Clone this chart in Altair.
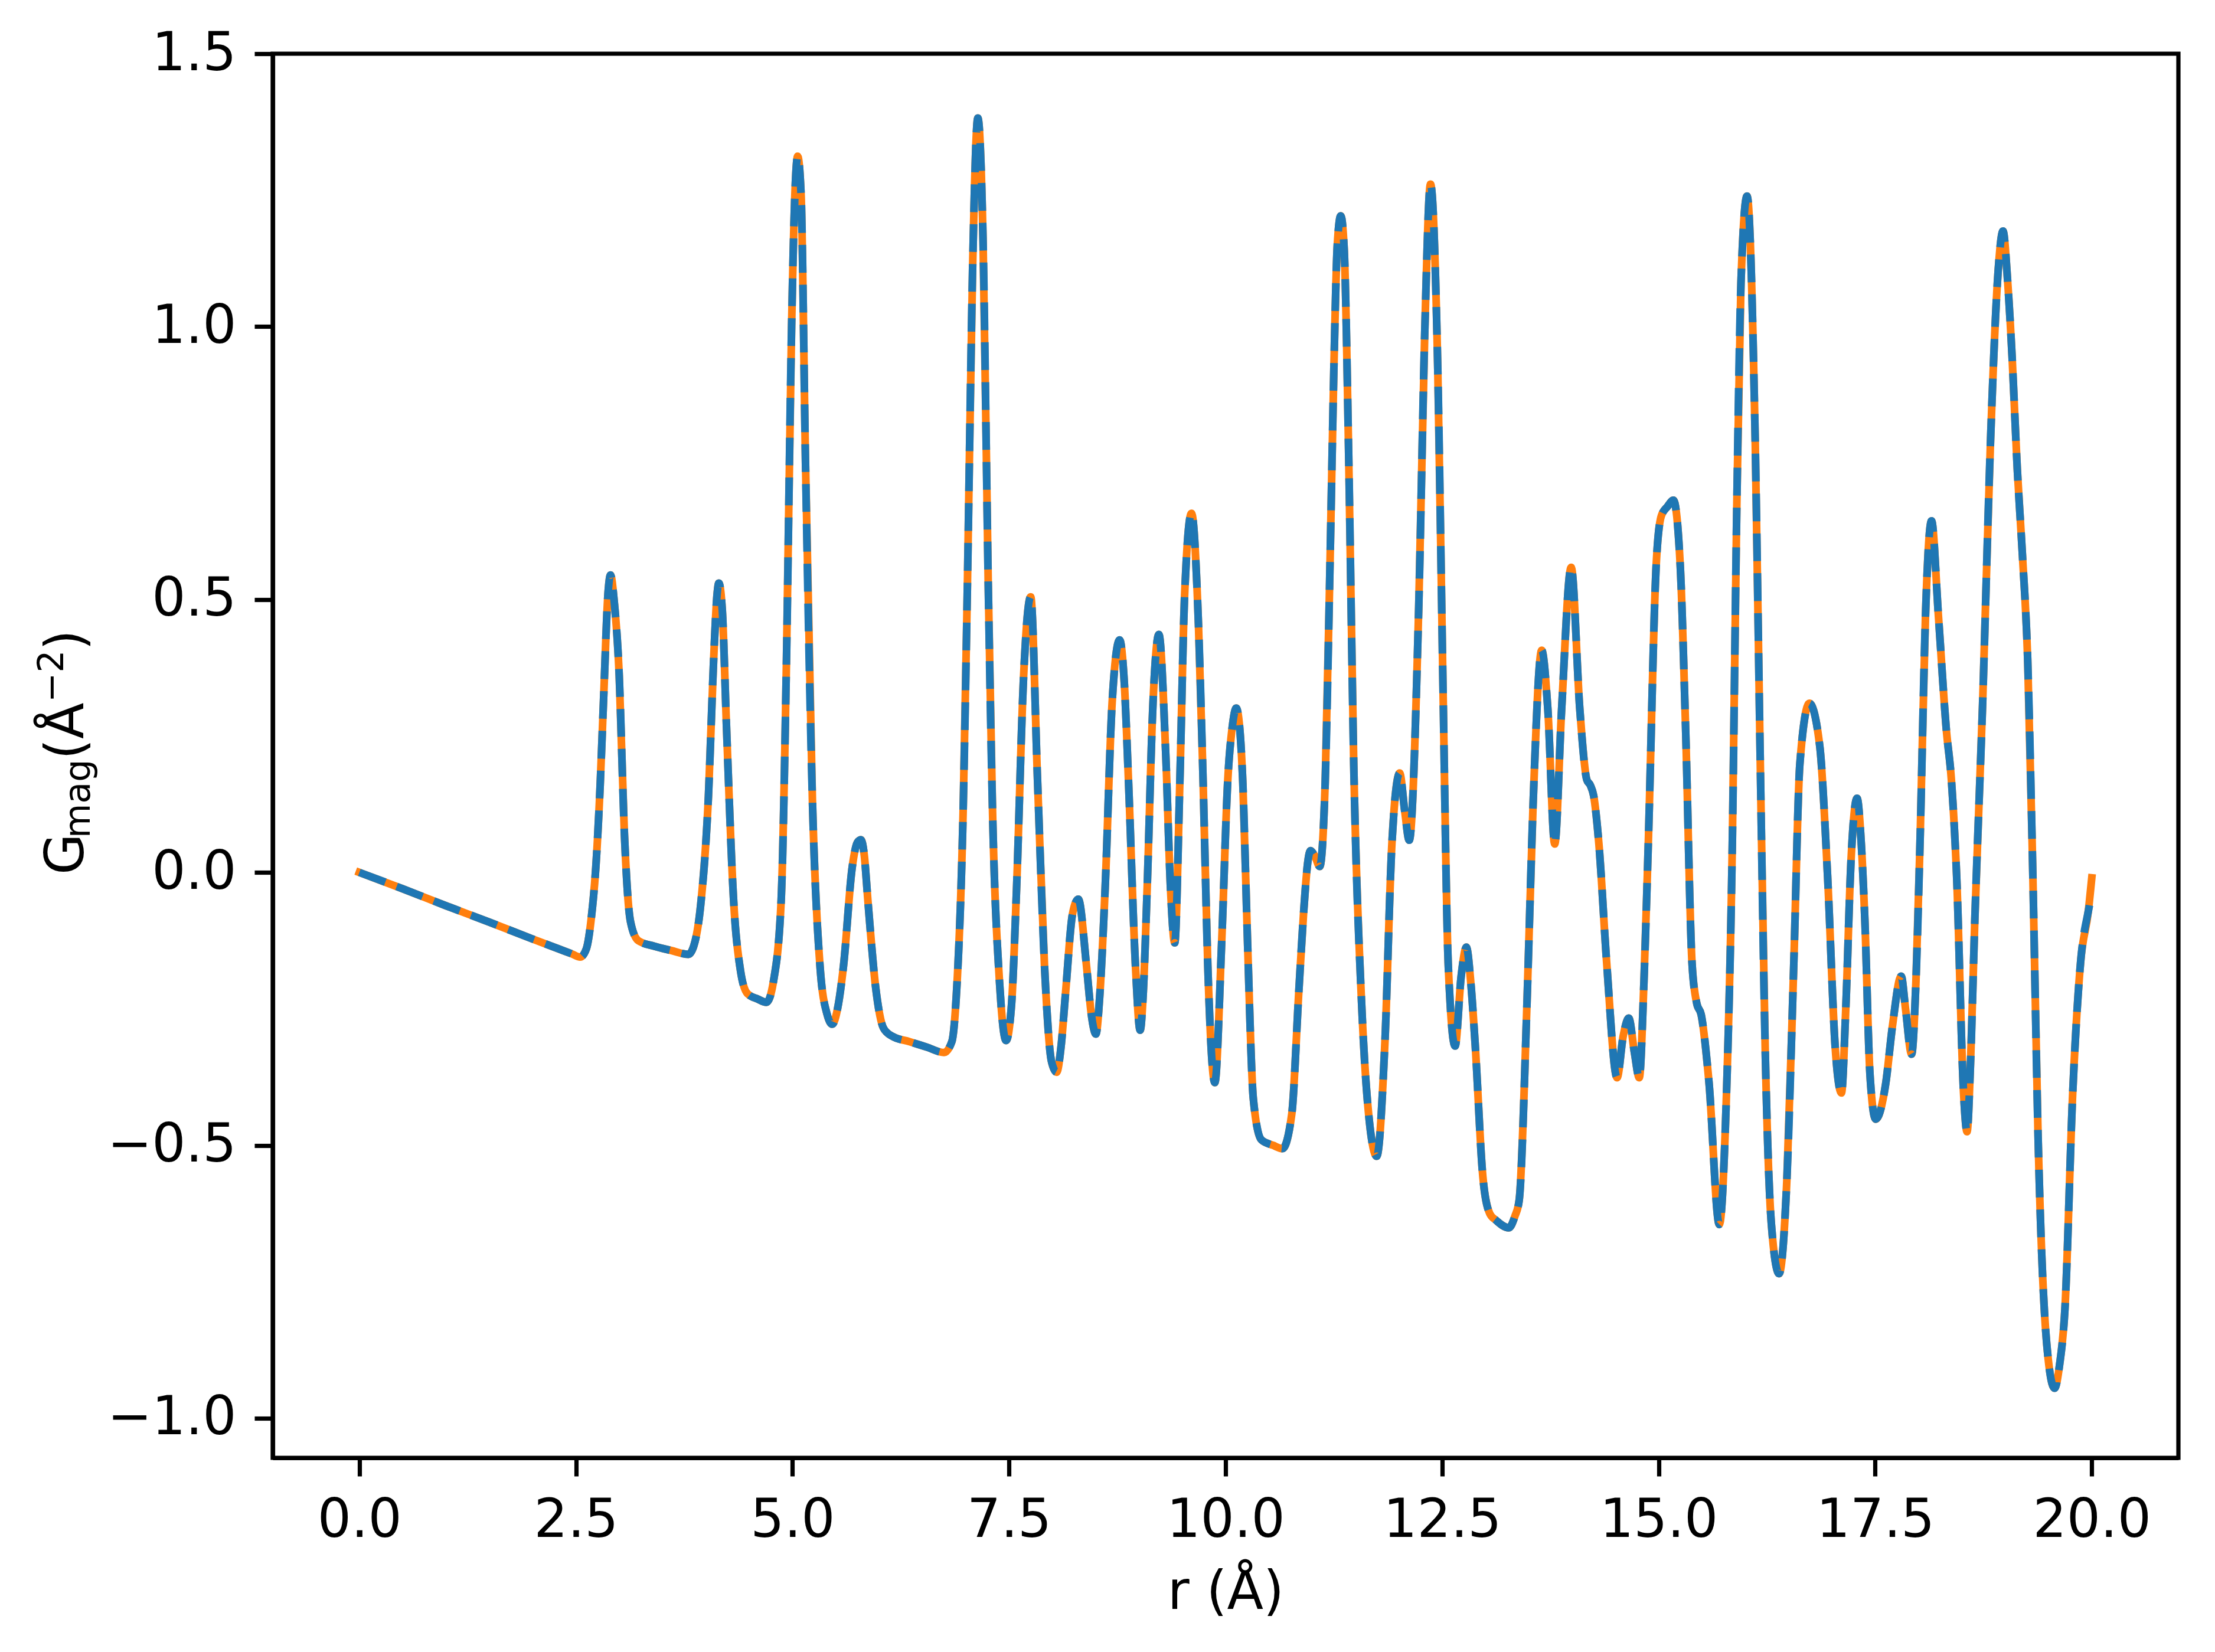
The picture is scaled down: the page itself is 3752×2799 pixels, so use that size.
import altair as alt
import pandas as pd

# (r in Å, G_mag)
points = [
    (0.00, 0.000), (0.50, -0.030), (1.00, -0.061), (1.50, -0.091), (2.00, -0.122), (2.30, -0.140),
    (2.45, -0.149), (2.55, -0.155), (2.62, -0.14), (2.68, -0.08), (2.73, 0.01), (2.78, 0.16),
    (2.82, 0.32), (2.87, 0.51), (2.90, 0.545), (2.94, 0.50), (3.00, 0.36), (3.06, 0.07), (3.13, -0.09),
    (3.22, -0.125), (3.40, -0.135), (3.60, -0.143), (3.80, -0.150), (3.86, -0.135), (3.94, -0.06),
    (4.03, 0.14), (4.09, 0.39), (4.13, 0.51), (4.15, 0.53), (4.19, 0.48), (4.24, 0.26),
    (4.32, -0.05), (4.40, -0.18), (4.48, -0.222), (4.60, -0.232), (4.70, -0.238), (4.78, -0.20),
    (4.87, -0.05), (4.93, 0.38), (4.99, 1.00), (5.03, 1.25), (5.06, 1.312), (5.10, 1.24),
    (5.15, 0.755), (5.23, 0.134), (5.32, -0.176), (5.40, -0.26), (5.46, -0.278), (5.52, -0.25),
    (5.59, -0.17), (5.69, 0.01), (5.75, 0.055), (5.79, 0.06), (5.83, 0.03), (5.87, -0.05),
    (5.96, -0.21), (6.05, -0.285), (6.15, -0.300), (6.35, -0.310), (6.55, -0.320), (6.75, -0.330),
    (6.84, -0.31), (6.89, -0.23), (6.97, 0.11), (7.02, 0.53), (7.08, 1.11), (7.14, 1.382),
    (7.20, 1.16), (7.26, 0.53), (7.31, 0.11), (7.39, -0.20), (7.466, -0.308), (7.53, -0.24),
    (7.587, -0.03), (7.668, 0.358), (7.75, 0.505), (7.83, 0.165), (7.91, -0.172), (7.99, -0.346),
    (8.05, -0.366), (8.10, -0.32), (8.153, -0.22), (8.233, -0.076), (8.30, -0.049), (8.395, -0.172),
    (8.45, -0.26), (8.503, -0.296), (8.55, -0.22), (8.61, -0.028), (8.69, 0.31), (8.777, 0.426),
    (8.83, 0.35), (8.88, 0.165), (8.96, -0.172), (9.014, -0.289), (9.05, -0.22), (9.095, -0.028),
    (9.162, 0.31), (9.23, 0.436), (9.31, 0.214), (9.364, -0.028), (9.413, -0.129), (9.472, 0.165),
    (9.526, 0.503), (9.607, 0.658), (9.687, 0.455), (9.741, 0.165), (9.795, -0.172), (9.876, -0.385),
    (9.956, -0.124), (10.024, 0.165), (10.08, 0.27), (10.123, 0.301), (10.16, 0.27), (10.199, 0.165),
    (10.253, -0.124), (10.32, -0.414), (10.414, -0.49), (10.55, -0.50), (10.657, -0.506), (10.764, -0.443),
    (10.845, -0.22), (10.90, -0.076), (10.95, 0.02), (10.98, 0.04), (11.03, 0.03), (11.087, 0.011),
    (11.15, 0.165), (11.21, 0.60), (11.25, 0.921), (11.29, 1.15), (11.33, 1.203), (11.37, 1.14),
    (11.42, 0.776), (11.48, 0.196), (11.57, -0.238), (11.66, -0.456), (11.745, -0.52), (11.84, -0.31),
    (11.92, 0.052), (12.01, 0.182), (12.07, 0.11), (12.12, 0.059), (12.23, 0.486), (12.30, 0.993),
    (12.366, 1.261), (12.45, 0.921), (12.51, 0.341), (12.57, -0.166), (12.65, -0.318), (12.72, -0.19),
    (12.78, -0.137), (12.83, -0.20), (12.88, -0.311), (12.97, -0.557), (13.05, -0.625), (13.12, -0.637),
    (13.27, -0.651), (13.34, -0.63), (13.39, -0.60), (13.48, -0.238), (13.55, 0.124), (13.65, 0.407),
    (13.72, 0.30), (13.80, 0.052), (13.88, 0.30), (13.99, 0.559), (14.09, 0.298), (14.17, 0.17),
    (14.21, 0.16), (14.25, 0.14), (14.31, 0.052), (14.40, -0.166), (14.52, -0.376), (14.59, -0.30),
    (14.655, -0.267), (14.72, -0.33), (14.776, -0.376), (14.83, -0.20), (14.88, 0.052), (14.97, 0.559),
    (15.03, 0.653), (15.10, 0.67), (15.17, 0.682), (15.25, 0.559), (15.31, 0.269), (15.385, -0.166),
    (15.44, -0.24), (15.49, -0.26), (15.58, -0.383), (15.70, -0.645), (15.78, -0.42), (15.85, 0.05),
    (15.90, 0.65), (15.95, 1.08), (16.02, 1.239), (16.115, 0.786), (16.17, 0.231), (16.23, -0.325),
    (16.30, -0.642), (16.39, -0.735), (16.48, -0.563), (16.56, -0.166), (16.63, 0.199), (16.74, 0.31),
    (16.86, 0.231), (16.95, -0.007), (17.04, -0.325), (17.11, -0.404), (17.16, -0.25), (17.22, 0.02),
    (17.29, 0.136), (17.34, 0.05), (17.38, -0.086), (17.44, -0.372), (17.505, -0.452), (17.62, -0.388),
    (17.70, -0.28), (17.80, -0.19), (17.85, -0.25), (17.92, -0.333), (17.97, -0.20), (18.02, 0.072),
    (18.08, 0.469), (18.15, 0.644), (18.23, 0.469), (18.32, 0.263), (18.38, 0.168), (18.44, -0.007),
    (18.52, -0.404), (18.56, -0.475), (18.60, -0.35), (18.65, -0.086), (18.74, 0.31), (18.83, 0.786),
    (18.92, 1.104), (18.975, 1.175), (19.03, 1.08), (19.08, 0.945), (19.14, 0.739), (19.20, 0.58),
    (19.26, 0.39), (19.32, -0.007), (19.38, -0.483), (19.48, -0.864), (19.57, -0.945), (19.63, -0.90),
    (19.69, -0.80), (19.78, -0.404), (19.87, -0.166), (19.96, -0.071), (20.00, -0.04),
]
r_vals = [p[0] for p in points]
g_data = [p[1] for p in points]
# fitted curve: same as data except its end point
g_fit = g_data[:-1] + [-0.01]

x_ticks = [0.0, 2.5, 5.0, 7.5, 10.0, 12.5, 15.0, 17.5, 20.0]
y_ticks = [-1.0, -0.5, 0.0, 0.5, 1.0, 1.5]

FONT = "DejaVu Sans"
FS = 90
SUB = 60
LW = 13

df_data = pd.DataFrame({"r": r_vals, "G": g_data})
df_fit = pd.DataFrame({"r": r_vals, "G": g_fit})

xscale = alt.Scale(domain=[-1, 21], nice=False, zero=False)
yscale = alt.Scale(domain=[-1.0725, 1.5], nice=False, zero=False)

xaxis = alt.Axis(values=x_ticks, format=".1f", title="r (Å)", grid=False, labelFlush=False)
yaxis = alt.Axis(values=y_ticks, format=".1f", title="", grid=False, labelFlush=False)

fit_line = alt.Chart(df_fit).mark_line(
    color="#ff7f0e", strokeWidth=LW, interpolate="monotone", strokeJoin="round", strokeCap="square"
).encode(
    x=alt.X("r:Q", scale=xscale, axis=xaxis),
    y=alt.Y("G:Q", scale=yscale, axis=yaxis),
)

data_line = alt.Chart(df_data).mark_line(
    color="#1f77b4", strokeWidth=LW, interpolate="monotone", strokeDash=[47, 20.5],
    strokeCap="butt", strokeJoin="round"
).encode(
    x=alt.X("r:Q", scale=xscale, axis=xaxis),
    y=alt.Y("G:Q", scale=yscale, axis=yaxis),
)

# y-axis title built from pieces (subscript / superscript)
title_pieces = [
    ("G", FS, -321, 1391),
    ("mag", SUB, -310, 1329),
    ("(Å", FS, -321, 1196),
    ("−2", SUB, -355, 1099),
    (")", FS, -321, 1011),
]
title_layers = []
for txt, size, px, py in title_pieces:
    title_layers.append(
        alt.Chart(pd.DataFrame({"t": [txt]})).mark_text(
            angle=270, align="left", baseline="alphabetic", font=FONT, fontSize=size, color="black"
        ).encode(text="t:N", x=alt.value(px), y=alt.value(py))
    )

chart = alt.layer(fit_line, data_line, *title_layers).properties(
    width=3228,
    height=2379,
    padding={"left": 454, "top": 83, "right": 54, "bottom": 321},
    autosize=alt.AutoSizeParams(type="none"),
    background="white",
).configure_view(
    stroke="black", strokeWidth=7.2
).configure_axis(
    labelFont=FONT, labelFontSize=FS, labelColor="black", labelLimit=1000,
    titleFont=FONT, titleFontSize=FS, titleFontWeight="normal", titleColor="black",
    tickSize=31, tickWidth=7.2, tickColor="black",
    domainColor="black", domainWidth=7.2,
    labelPadding=31, titlePadding=33,
)

chart.save("out.html", embed_options={"renderer": "svg", "actions": False})
